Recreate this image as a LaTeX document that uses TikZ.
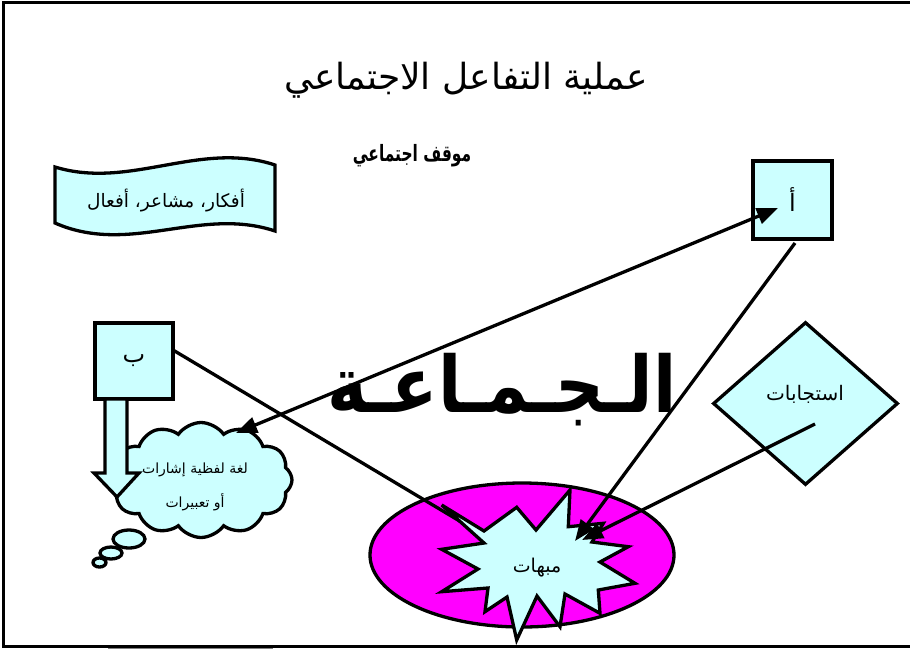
\documentclass[tikz,border=0pt]{standalone}
\usepackage{fontspec}
\usetikzlibrary{shapes.geometric,shapes.symbols,arrows.meta}
\newfontfamily\arfont[Script=Arabic]{DejaVu Sans}
\TeXXeTstate=1
\newcommand{\AR}[1]{{\arfont\beginR #1\endR}}
\definecolor{lcyan}{HTML}{CCFFFF}
\definecolor{mag}{HTML}{FF00FF}
\tikzset{
 shp/.style={draw=black, line width=3.3pt, fill=lcyan},
 conn/.style={line width=3.3pt},
 tipend/.style={-{Triangle[length=21pt,width=16pt]}},
 tipboth/.style={{Triangle[length=21pt,width=16pt]}-{Triangle[length=21pt,width=16pt]}},
 lbl/.style={inner sep=0pt}
}
\begin{document}
\begin{tikzpicture}[x=1pt,y=-1pt]
\useasboundingbox (0,0) rectangle (910,649);
% frame
\draw[line width=3.8pt] (910,2.5) -- (3.5,2.5) -- (3.5,646.5) -- (910,646.5);
\draw[gray, line width=1.2pt] (108,648.6) -- (273,648.6);
% titles
\node[inner sep=0pt] (title) at (466,80) {\fontsize{36}{42}\selectfont\AR{عملية التفاعل الاجتماعي}};
\node[inner sep=0pt] (sub) at (412,156) {\scalebox{0.86}[1.25]{\fontsize{18}{22}\selectfont\bfseries\AR{موقف اجتماعي}}};
% banner
\draw[shp] (55,167) .. controls (130,190) and (200,140) .. (275,165)
  -- (275,231) .. controls (200,206) and (130,256) .. (55,223) -- cycle;
\node[lbl, font=\fontsize{18.5}{22}\selectfont] (ban) at (166,201) {\AR{أفكار، مشاعر، أفعال}};
% boxes
\node[shp, minimum width=79pt, minimum height=78pt, inner sep=0pt, font=\fontsize{24}{28}\selectfont] (A) at (792.5,200) {\AR{أ}};
\node[shp, minimum width=78pt, minimum height=76pt, inner sep=0pt, font=\fontsize{24}{28}\selectfont] (B) at (134,361) {\AR{ب}};
% big text
\node[inner sep=0pt] (G) at (502,390) {\scalebox{0.87}[1]{\fontsize{78}{90}\selectfont\bfseries\AR{الـجـمـاعـة}}};
% diamond
\node[shp, diamond, minimum width=185pt, minimum height=163pt, inner sep=0pt] (D) at (805.5,403.5) {};
\node[lbl, font=\fontsize{20}{24}\selectfont] (Dt) at (805,394) {\AR{استجابات}};
% cloud
\node[shp, cloud, cloud puffs=12, cloud puff arc=110, aspect=1.6, minimum width=182pt, minimum height=115pt, inner sep=0pt] (C) at (201,480) {};
\node[lbl, align=center, font=\fontsize{14}{18}\selectfont] (Ct) at (195,487) {\AR{لغة لفظية إشارات}\\[16pt]\AR{أو تعبيرات}};
% block arrow from B
\draw[shp, line join=miter] (105,399) -- (127,399) -- (127,473) -- (139,473) -- (117,497) -- (94,473) -- (105,473) -- cycle;
% thought bubbles
\draw[shp] (129,539) ellipse [x radius=16pt, y radius=9pt];
\draw[shp] (111,553) ellipse [x radius=11pt, y radius=6pt];
\draw[shp] (99.5,562.5) ellipse [x radius=6.5pt, y radius=4.5pt];
% ellipse
\node[ellipse, draw=black, line width=3.3pt, fill=mag, minimum width=304pt, minimum height=144pt] (E) at (522,555) {};
% connector from B (drawn below the burst)
\coordinate (bS) at (173,350);
\coordinate (bE) at (468,526);
\draw[conn] (bS) -- (bE);
% starburst
\draw[shp, line join=miter] (441.7,505) -- (484,531) -- (516.7,507.3) -- (536,530) -- (570,490) -- (568.3,526.7)
  -- (603.3,523.3) -- (592,542) -- (628.3,546.7) -- (600,562) -- (635,583.3) -- (598.3,590)
  -- (600,613.3) -- (565,594) -- (560,626.7) -- (537,596) -- (516.7,640) -- (507,597)
  -- (485,611.7) -- (488,588) -- (441.7,591.7) -- (478,569) -- (441.7,549.3) -- (484,543) -- cycle;
\node[lbl, font=\fontsize{19}{22}\selectfont] (M) at (537,568) {\AR{مبهات}};
% connectors
\coordinate (cC) at (236,433);
\coordinate (cA) at (778,208);
\draw[conn, tipboth] (cC) -- (cA);
\coordinate (aS) at (795,243);
\coordinate (aE) at (575,541);
\draw[conn, tipend] (aS) -- (aE);
\coordinate (dS) at (815,424);
\coordinate (dE) at (582,540);
\draw[conn, tipend] (dS) -- (dE);
\end{tikzpicture}
\end{document}
